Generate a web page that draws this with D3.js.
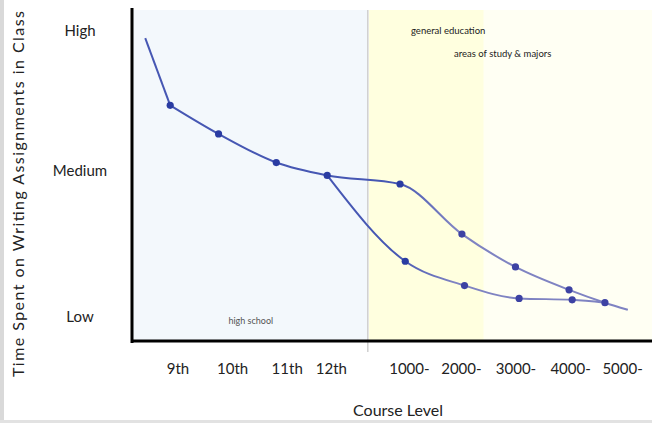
<!DOCTYPE html>
<html>
<head>
<meta charset="utf-8">
<script src="https://cdn.jsdelivr.net/npm/d3@7"></script>
<style>
  body { margin: 0; background: #fff; }
  svg { display: block; font-family: Lato, "Open Sans", sans-serif; }
</style>
</head>
<body>
<div id="chart"></div>
<script>
// Tick labels and where they sit on the course-level axis
const xTickLabels = ["9th", "10th", "11th", "12th", "1000-", "2000-", "3000-", "4000-", "5000-"];
const xTickPos = [1, 2.05, 3.1, 3.95, 5.45, 6.45, 7.5, 8.55, 9.55];
const yTickLabels = ["Low", "Medium", "High"];
const yTickPos = [1, 2.02, 3];

// Upper line: general path through all levels
const upperX = [0.37, 0.85, 1.78, 2.89, 3.87, 5.27, 6.46, 7.49, 8.52, 9.21, 9.65];
const upperY = [2.95, 2.48, 2.28, 2.08, 1.99, 1.93, 1.58, 1.35, 1.19, 1.10, 1.05];
const upperDot = [false, true, true, true, true, true, true, true, true, true, false];

// Lower line: branches off after 12th
const lowerX = [3.87, 5.37, 6.51, 7.56, 8.58, 9.21];
const lowerY = [1.99, 1.39, 1.22, 1.13, 1.12, 1.10];
const lowerDot = [false, true, true, true, true, false];

// Shaded bands (x extents in axis units)
const bandNames = ["high school", "general education", "areas of study & majors"];
const bandStart = [0.13, 4.67, 6.88];
const bandEnd = [4.65, 6.88, 10.2];
const bandColors = ["#f3f8fc", "#ffffdf", "#fffff3"];

const width = 652;
const height = 423;

const svg = d3.select("#chart")
    .append("svg")
    .attr("width", width)
    .attr("height", height);

const x = d3.scaleLinear().domain([0, 10]).range([126, 646]);
const y = d3.scaleLinear().domain([1, 3]).range([317, 31]);

const plotTop = 10;
const plotBottom = 341;

// frame strips at the left and bottom edge
svg.append("rect").attr("x", 0).attr("y", 0).attr("width", 4).attr("height", height).attr("fill", "#d9d9d9");
svg.append("rect").attr("x", 0).attr("y", 420).attr("width", width).attr("height", 3).attr("fill", "#e2e2e2");

// background bands
svg.selectAll(".band")
    .data(bandStart)
    .enter()
    .append("rect")
    .attr("class", "band")
    .attr("x", (d, i) => x(d))
    .attr("y", plotTop)
    .attr("width", (d, i) => x(bandEnd[i]) - x(d))
    .attr("height", plotBottom - plotTop)
    .attr("fill", (d, i) => bandColors[i]);

// separator between high school and college
svg.append("line")
    .attr("x1", x(4.65)).attr("x2", x(4.65))
    .attr("y1", plotTop).attr("y2", 352)
    .attr("stroke", "#cfcfcf")
    .attr("stroke-width", 1.5);

// band captions
svg.append("text")
    .attr("x", x(2.4)).attr("y", 324)
    .attr("text-anchor", "middle")
    .attr("font-size", 9)
    .attr("fill", "#555")
    .text(bandNames[0]);
svg.append("text")
    .attr("x", 411).attr("y", 34)
    .attr("font-size", 9.5)
    .attr("fill", "#222")
    .text(bandNames[1]);
svg.append("text")
    .attr("x", 454).attr("y", 57)
    .attr("font-size", 9.5)
    .attr("fill", "#222")
    .text(bandNames[2]);

// colour shifts from blue to lavender past the 1000 level
const grad = svg.append("defs").append("linearGradient")
    .attr("id", "lineGrad")
    .attr("gradientUnits", "userSpaceOnUse")
    .attr("x1", x(5.2)).attr("x2", x(6.3))
    .attr("y1", 0).attr("y2", 0);
grad.append("stop").attr("offset", 0).attr("stop-color", "#4657b3");
grad.append("stop").attr("offset", 1).attr("stop-color", "#7f83c2");

const line = d3.line()
    .x(d => x(d[0]))
    .y(d => y(d[1]))
    .curve(d3.curveMonotoneX);

const straight = d3.line()
    .x(d => x(d[0]))
    .y(d => y(d[1]));

const series = [
    { xs: upperX, ys: upperY, dots: upperDot },
    { xs: lowerX, ys: lowerY, dots: lowerDot }
];

series.forEach((s, k) => {
    const pts = s.xs.map((v, i) => [v, s.ys[i]]);
    // the upper line drops straight into its first dot, then bends
    const curved = k === 0 ? pts.slice(1) : pts;
    if (k === 0) {
        svg.append("path")
            .attr("d", straight(pts.slice(0, 2)))
            .attr("fill", "none")
            .attr("stroke", "url(#lineGrad)")
            .attr("stroke-width", 2);
    }
    svg.append("path")
        .attr("d", line(curved))
        .attr("fill", "none")
        .attr("stroke", "url(#lineGrad)")
        .attr("stroke-width", 2);
});

series.forEach(s => {
    const pts = s.xs.map((v, i) => [v, s.ys[i], s.dots[i]]).filter(d => d[2]);
    svg.selectAll(null)
        .data(pts)
        .enter()
        .append("circle")
        .attr("cx", d => x(d[0]))
        .attr("cy", d => y(d[1]))
        .attr("r", 3.6)
        .attr("fill", d => d[0] < 6 ? "#2a3ca2" : "#3d42a3");
});

// axes
svg.append("line")
    .attr("x1", 132).attr("x2", 132)
    .attr("y1", 8).attr("y2", 343)
    .attr("stroke", "#000").attr("stroke-width", 3);
svg.append("line")
    .attr("x1", 131).attr("x2", width)
    .attr("y1", plotBottom).attr("y2", plotBottom)
    .attr("stroke", "#000").attr("stroke-width", 3);

// tick labels
svg.selectAll(".xtick")
    .data(xTickLabels)
    .enter()
    .append("text")
    .attr("class", "xtick")
    .attr("x", (d, i) => x(xTickPos[i]))
    .attr("y", 374)
    .attr("text-anchor", "middle")
    .attr("font-size", 15)
    .attr("fill", "#222")
    .text(d => d);

svg.selectAll(".ytick")
    .data(yTickLabels)
    .enter()
    .append("text")
    .attr("class", "ytick")
    .attr("x", 80)
    .attr("y", (d, i) => y(yTickPos[i]) + 5)
    .attr("text-anchor", "middle")
    .attr("font-size", 15)
    .attr("fill", "#222")
    .text(d => d);

// axis titles
svg.append("text")
    .attr("x", 398).attr("y", 416)
    .attr("text-anchor", "middle")
    .attr("font-size", 16)
    .attr("fill", "#222")
    .text("Course Level");

svg.append("text")
    .attr("transform", "translate(24,194) rotate(-90)")
    .attr("text-anchor", "middle")
    .attr("font-size", 16)
    .attr("textLength", 366)
    .attr("fill", "#222")
    .text("Time Spent on Writing Assignments in Class");
</script>
</body>
</html>
